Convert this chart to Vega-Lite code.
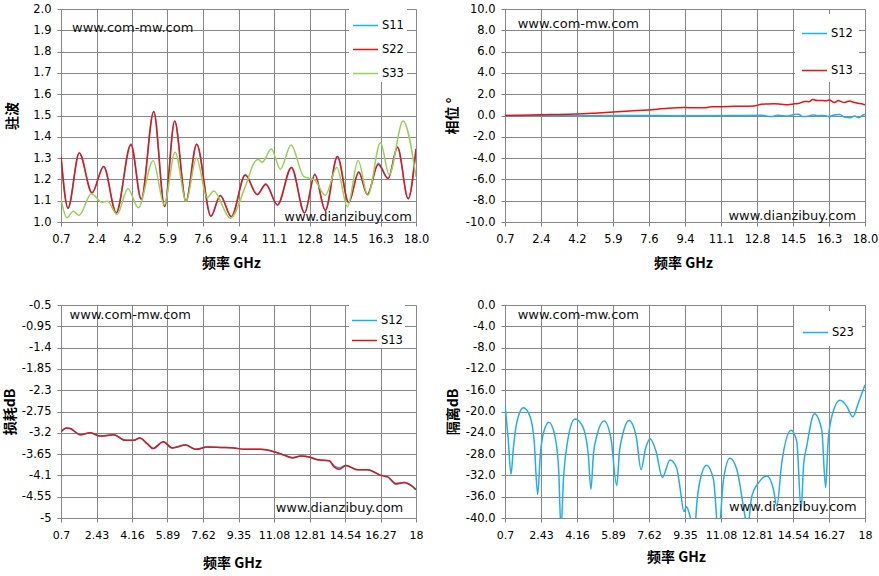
{
  "$schema": "https://vega.github.io/schema/vega-lite/v6.json",
  "padding": {"left": 3, "top": 3, "right": 0, "bottom": 0},
  "config": {
    "font": "DejaVu Sans",
    "view": {"stroke": null},
    "locale": {"number": {"decimal": ".", "thousands": ",", "grouping": [3], "currency": ["$", ""], "minus": "-"}},
    "axis": {
      "domainColor": "#868686", "gridColor": "#868686", "gridOpacity": 1, "tickColor": "#868686",
      "tickSize": 4, "tickCount": 11, "labelFont": "DejaVu Sans", "labelFontSize": 11.5, "labelColor": "#000000",
      "labelPadding": 6, "labelFlush": false, "labelOverlap": false, "labelBound": false,
      "titleFont": "Noto Sans CJK SC", "titleFontSize": 14, "titleFontWeight": "bold", "titleColor": "#000000",
      "titlePadding": 12
    },
    "axisX": {"labelPadding": 7},
    "legend": {
      "title": null, "symbolType": "stroke", "symbolSize": 625, "symbolStrokeWidth": 1.5,
      "labelFont": "DejaVu Sans", "labelFontSize": 11.5, "labelColor": "#000000", "labelOffset": 3,
      "fillColor": "#ffffff", "orient": "none"
    },
    "text": {"font": "DejaVu Sans", "fontSize": 13, "color": "#111111"}
  },
  "datasets": {
    "p1": [
      {"f": 0.7, "s": "S11", "v": 1.308}, {"f": 1.04, "s": "S11", "v": 1.065}, {"f": 1.59, "s": "S11", "v": 1.324},
      {"f": 2.21, "s": "S11", "v": 1.137}, {"f": 2.78, "s": "S11", "v": 1.261}, {"f": 3.39, "s": "S11", "v": 1.043},
      {"f": 4.11, "s": "S11", "v": 1.366}, {"f": 4.61, "s": "S11", "v": 1.107}, {"f": 5.22, "s": "S11", "v": 1.519},
      {"f": 5.75, "s": "S11", "v": 1.072}, {"f": 6.24, "s": "S11", "v": 1.474}, {"f": 6.79, "s": "S11", "v": 1.097},
      {"f": 7.31, "s": "S11", "v": 1.365}, {"f": 8.01, "s": "S11", "v": 1.027}, {"f": 8.46, "s": "S11", "v": 1.125},
      {"f": 9.0, "s": "S11", "v": 1.025}, {"f": 9.68, "s": "S11", "v": 1.223}, {"f": 10.26, "s": "S11", "v": 1.129},
      {"f": 10.68, "s": "S11", "v": 1.18}, {"f": 11.25, "s": "S11", "v": 1.08}, {"f": 11.93, "s": "S11", "v": 1.256},
      {"f": 12.57, "s": "S11", "v": 1.043}, {"f": 13.07, "s": "S11", "v": 1.225}, {"f": 13.58, "s": "S11", "v": 1.055},
      {"f": 14.17, "s": "S11", "v": 1.308}, {"f": 14.72, "s": "S11", "v": 1.091}, {"f": 15.21, "s": "S11", "v": 1.236},
      {"f": 15.63, "s": "S11", "v": 1.129}, {"f": 16.16, "s": "S11", "v": 1.276}, {"f": 16.64, "s": "S11", "v": 1.204},
      {"f": 17.1, "s": "S11", "v": 1.351}, {"f": 17.62, "s": "S11", "v": 1.109}, {"f": 18.0, "s": "S11", "v": 1.343},

      {"f": 0.7, "s": "S22", "v": 1.308}, {"f": 1.04, "s": "S22", "v": 1.065}, {"f": 1.59, "s": "S22", "v": 1.324},
      {"f": 2.21, "s": "S22", "v": 1.137}, {"f": 2.78, "s": "S22", "v": 1.261}, {"f": 3.39, "s": "S22", "v": 1.043},
      {"f": 4.11, "s": "S22", "v": 1.363}, {"f": 4.61, "s": "S22", "v": 1.107}, {"f": 5.22, "s": "S22", "v": 1.519},
      {"f": 5.75, "s": "S22", "v": 1.072}, {"f": 6.24, "s": "S22", "v": 1.474}, {"f": 6.79, "s": "S22", "v": 1.097},
      {"f": 7.31, "s": "S22", "v": 1.365}, {"f": 8.01, "s": "S22", "v": 1.027}, {"f": 8.46, "s": "S22", "v": 1.125},
      {"f": 9.0, "s": "S22", "v": 1.025}, {"f": 9.68, "s": "S22", "v": 1.219}, {"f": 10.26, "s": "S22", "v": 1.129},
      {"f": 10.68, "s": "S22", "v": 1.176}, {"f": 11.25, "s": "S22", "v": 1.08}, {"f": 11.93, "s": "S22", "v": 1.256},
      {"f": 12.57, "s": "S22", "v": 1.043}, {"f": 13.07, "s": "S22", "v": 1.222}, {"f": 13.58, "s": "S22", "v": 1.055},
      {"f": 14.17, "s": "S22", "v": 1.308}, {"f": 14.72, "s": "S22", "v": 1.091}, {"f": 15.21, "s": "S22", "v": 1.234},
      {"f": 15.63, "s": "S22", "v": 1.129}, {"f": 16.16, "s": "S22", "v": 1.27}, {"f": 16.64, "s": "S22", "v": 1.204},
      {"f": 17.1, "s": "S22", "v": 1.351}, {"f": 17.62, "s": "S22", "v": 1.109}, {"f": 18.0, "s": "S22", "v": 1.343},

      {"f": 0.7, "s": "S33", "v": 1.107}, {"f": 0.99, "s": "S33", "v": 1.02}, {"f": 1.3, "s": "S33", "v": 1.051},
      {"f": 1.58, "s": "S33", "v": 1.031}, {"f": 2.18, "s": "S33", "v": 1.133}, {"f": 2.7, "s": "S33", "v": 1.093},
      {"f": 2.97, "s": "S33", "v": 1.097}, {"f": 3.43, "s": "S33", "v": 1.035}, {"f": 3.96, "s": "S33", "v": 1.156},
      {"f": 4.47, "s": "S33", "v": 1.067}, {"f": 5.19, "s": "S33", "v": 1.288}, {"f": 5.73, "s": "S33", "v": 1.081},
      {"f": 6.26, "s": "S33", "v": 1.328}, {"f": 6.8, "s": "S33", "v": 1.097}, {"f": 7.3, "s": "S33", "v": 1.3},
      {"f": 7.82, "s": "S33", "v": 1.115}, {"f": 8.14, "s": "S33", "v": 1.145}, {"f": 8.95, "s": "S33", "v": 1.018},
      {"f": 9.68, "s": "S33", "v": 1.166}, {"f": 10.16, "s": "S33", "v": 1.285}, {"f": 10.33, "s": "S33", "v": 1.293},
      {"f": 10.5, "s": "S33", "v": 1.28}, {"f": 10.95, "s": "S33", "v": 1.343}, {"f": 11.39, "s": "S33", "v": 1.248},
      {"f": 11.91, "s": "S33", "v": 1.362}, {"f": 12.53, "s": "S33", "v": 1.213}, {"f": 12.8, "s": "S33", "v": 1.205},
      {"f": 13.09, "s": "S33", "v": 1.194}, {"f": 13.58, "s": "S33", "v": 1.125}, {"f": 14.14, "s": "S33", "v": 1.256},
      {"f": 14.66, "s": "S33", "v": 1.072}, {"f": 15.18, "s": "S33", "v": 1.289}, {"f": 15.65, "s": "S33", "v": 1.125},
      {"f": 16.27, "s": "S33", "v": 1.372}, {"f": 16.69, "s": "S33", "v": 1.222}, {"f": 17.37, "s": "S33", "v": 1.474},
      {"f": 18.0, "s": "S33", "v": 1.212}
    ],
    "p2": [
      {"f": 0.7, "s": "S12", "v": 0.0}, {"f": 4.2, "s": "S12", "v": -0.02}, {"f": 8.0, "s": "S12", "v": 0.0},
      {"f": 10.0, "s": "S12", "v": -0.03}, {"f": 12.0, "s": "S12", "v": 0.0}, {"f": 13.0, "s": "S12", "v": 0.02},
      {"f": 13.5, "s": "S12", "v": -0.1}, {"f": 13.8, "s": "S12", "v": 0.02}, {"f": 14.3, "s": "S12", "v": -0.05},
      {"f": 14.6, "s": "S12", "v": 0.1}, {"f": 14.8, "s": "S12", "v": 0.12}, {"f": 15.0, "s": "S12", "v": -0.1},
      {"f": 15.3, "s": "S12", "v": -0.05}, {"f": 15.5, "s": "S12", "v": 0.05}, {"f": 15.7, "s": "S12", "v": -0.02},
      {"f": 16.0, "s": "S12", "v": 0.0}, {"f": 16.3, "s": "S12", "v": -0.1}, {"f": 16.5, "s": "S12", "v": 0.05},
      {"f": 16.8, "s": "S12", "v": 0.1}, {"f": 17.0, "s": "S12", "v": -0.15}, {"f": 17.3, "s": "S12", "v": -0.2},
      {"f": 17.5, "s": "S12", "v": -0.05}, {"f": 17.7, "s": "S12", "v": -0.2}, {"f": 17.9, "s": "S12", "v": 0.05},
      {"f": 18.0, "s": "S12", "v": 0.1},

      {"f": 0.7, "s": "S13", "v": 0.0}, {"f": 1.5, "s": "S13", "v": 0.03}, {"f": 2.46, "s": "S13", "v": 0.08},
      {"f": 3.3, "s": "S13", "v": 0.1}, {"f": 4.14, "s": "S13", "v": 0.14}, {"f": 5.0, "s": "S13", "v": 0.22},
      {"f": 5.9, "s": "S13", "v": 0.32}, {"f": 6.7, "s": "S13", "v": 0.42}, {"f": 7.58, "s": "S13", "v": 0.52},
      {"f": 8.54, "s": "S13", "v": 0.68}, {"f": 9.33, "s": "S13", "v": 0.74}, {"f": 9.8, "s": "S13", "v": 0.72},
      {"f": 10.29, "s": "S13", "v": 0.72}, {"f": 10.61, "s": "S13", "v": 0.82}, {"f": 11.1, "s": "S13", "v": 0.83},
      {"f": 11.7, "s": "S13", "v": 0.86}, {"f": 12.69, "s": "S13", "v": 0.9}, {"f": 13.01, "s": "S13", "v": 1.05},
      {"f": 13.3, "s": "S13", "v": 1.08}, {"f": 13.65, "s": "S13", "v": 1.1}, {"f": 14.0, "s": "S13", "v": 1.05},
      {"f": 14.29, "s": "S13", "v": 1.02}, {"f": 14.61, "s": "S13", "v": 1.1}, {"f": 14.85, "s": "S13", "v": 1.15},
      {"f": 15.09, "s": "S13", "v": 1.32}, {"f": 15.3, "s": "S13", "v": 1.3}, {"f": 15.49, "s": "S13", "v": 1.5},
      {"f": 15.7, "s": "S13", "v": 1.4}, {"f": 15.89, "s": "S13", "v": 1.42}, {"f": 16.1, "s": "S13", "v": 1.38},
      {"f": 16.29, "s": "S13", "v": 1.45}, {"f": 16.53, "s": "S13", "v": 1.22}, {"f": 16.72, "s": "S13", "v": 1.4},
      {"f": 16.85, "s": "S13", "v": 1.3}, {"f": 17.01, "s": "S13", "v": 1.22}, {"f": 17.25, "s": "S13", "v": 1.35},
      {"f": 17.45, "s": "S13", "v": 1.25}, {"f": 17.65, "s": "S13", "v": 1.15}, {"f": 17.85, "s": "S13", "v": 1.1},
      {"f": 18.0, "s": "S13", "v": 1.0}
    ],
    "p3": [
      {"f": 0.7, "s": "S12", "v": -3.18}, {"f": 0.96, "s": "S12", "v": -3.096}, {"f": 1.15, "s": "S12", "v": -3.11},
      {"f": 1.64, "s": "S12", "v": -3.24}, {"f": 2.13, "s": "S12", "v": -3.2}, {"f": 2.62, "s": "S12", "v": -3.27},
      {"f": 3.27, "s": "S12", "v": -3.24}, {"f": 3.84, "s": "S12", "v": -3.36}, {"f": 4.25, "s": "S12", "v": -3.36},
      {"f": 4.54, "s": "S12", "v": -3.31}, {"f": 4.9, "s": "S12", "v": -3.43}, {"f": 5.19, "s": "S12", "v": -3.53},
      {"f": 5.68, "s": "S12", "v": -3.39}, {"f": 6.12, "s": "S12", "v": -3.52}, {"f": 6.77, "s": "S12", "v": -3.46},
      {"f": 7.26, "s": "S12", "v": -3.55}, {"f": 7.83, "s": "S12", "v": -3.5}, {"f": 8.48, "s": "S12", "v": -3.51},
      {"f": 9.13, "s": "S12", "v": -3.52}, {"f": 9.62, "s": "S12", "v": -3.55}, {"f": 10.43, "s": "S12", "v": -3.55},
      {"f": 11.08, "s": "S12", "v": -3.6}, {"f": 11.57, "s": "S12", "v": -3.67}, {"f": 11.98, "s": "S12", "v": -3.72},
      {"f": 12.39, "s": "S12", "v": -3.69}, {"f": 12.79, "s": "S12", "v": -3.71}, {"f": 13.2, "s": "S12", "v": -3.77},
      {"f": 13.77, "s": "S12", "v": -3.79}, {"f": 14.01, "s": "S12", "v": -3.9}, {"f": 14.26, "s": "S12", "v": -3.94},
      {"f": 14.58, "s": "S12", "v": -3.89}, {"f": 15.15, "s": "S12", "v": -3.98}, {"f": 15.64, "s": "S12", "v": -3.98},
      {"f": 16.29, "s": "S12", "v": -4.1}, {"f": 16.62, "s": "S12", "v": -4.13}, {"f": 17.02, "s": "S12", "v": -4.29},
      {"f": 17.43, "s": "S12", "v": -4.25}, {"f": 17.76, "s": "S12", "v": -4.31}, {"f": 18.0, "s": "S12", "v": -4.4},

      {"f": 0.7, "s": "S13", "v": -3.18}, {"f": 0.96, "s": "S13", "v": -3.096}, {"f": 1.15, "s": "S13", "v": -3.11},
      {"f": 1.64, "s": "S13", "v": -3.24}, {"f": 2.13, "s": "S13", "v": -3.2}, {"f": 2.62, "s": "S13", "v": -3.27},
      {"f": 3.27, "s": "S13", "v": -3.24}, {"f": 3.84, "s": "S13", "v": -3.36}, {"f": 4.25, "s": "S13", "v": -3.36},
      {"f": 4.54, "s": "S13", "v": -3.31}, {"f": 4.9, "s": "S13", "v": -3.43}, {"f": 5.19, "s": "S13", "v": -3.53},
      {"f": 5.68, "s": "S13", "v": -3.39}, {"f": 6.12, "s": "S13", "v": -3.52}, {"f": 6.77, "s": "S13", "v": -3.46},
      {"f": 7.26, "s": "S13", "v": -3.55}, {"f": 7.83, "s": "S13", "v": -3.5}, {"f": 8.48, "s": "S13", "v": -3.51},
      {"f": 9.13, "s": "S13", "v": -3.52}, {"f": 9.62, "s": "S13", "v": -3.55}, {"f": 10.43, "s": "S13", "v": -3.55},
      {"f": 11.08, "s": "S13", "v": -3.6}, {"f": 11.57, "s": "S13", "v": -3.67}, {"f": 11.98, "s": "S13", "v": -3.73},
      {"f": 12.39, "s": "S13", "v": -3.69}, {"f": 12.79, "s": "S13", "v": -3.71}, {"f": 13.2, "s": "S13", "v": -3.77},
      {"f": 13.77, "s": "S13", "v": -3.79}, {"f": 14.01, "s": "S13", "v": -3.92}, {"f": 14.26, "s": "S13", "v": -3.97},
      {"f": 14.58, "s": "S13", "v": -3.89}, {"f": 15.15, "s": "S13", "v": -3.98}, {"f": 15.64, "s": "S13", "v": -3.98},
      {"f": 16.29, "s": "S13", "v": -4.1}, {"f": 16.62, "s": "S13", "v": -4.13}, {"f": 17.02, "s": "S13", "v": -4.27},
      {"f": 17.43, "s": "S13", "v": -4.25}, {"f": 17.76, "s": "S13", "v": -4.31}, {"f": 18.0, "s": "S13", "v": -4.4}
    ],
    "p4": [
      {"f": 0.7, "s": "S23", "v": -18.7}, {"f": 0.85, "s": "S23", "v": -25}, {"f": 0.99, "s": "S23", "v": -31.8},
      {"f": 1.1, "s": "S23", "v": -27}, {"f": 1.26, "s": "S23", "v": -22.2}, {"f": 1.58, "s": "S23", "v": -19.3},
      {"f": 1.9, "s": "S23", "v": -20.9}, {"f": 2.1, "s": "S23", "v": -25.5}, {"f": 2.27, "s": "S23", "v": -35.6},
      {"f": 2.4, "s": "S23", "v": -28}, {"f": 2.55, "s": "S23", "v": -24.0}, {"f": 2.81, "s": "S23", "v": -22.0},
      {"f": 3.1, "s": "S23", "v": -24.6}, {"f": 3.28, "s": "S23", "v": -31}, {"f": 3.39, "s": "S23", "v": -42},
      {"f": 3.52, "s": "S23", "v": -32}, {"f": 3.67, "s": "S23", "v": -26.5}, {"f": 4.06, "s": "S23", "v": -21.4},
      {"f": 4.43, "s": "S23", "v": -22.8}, {"f": 4.7, "s": "S23", "v": -28}, {"f": 4.83, "s": "S23", "v": -34.6},
      {"f": 4.95, "s": "S23", "v": -28}, {"f": 5.11, "s": "S23", "v": -24.6}, {"f": 5.46, "s": "S23", "v": -21.8},
      {"f": 5.79, "s": "S23", "v": -25.0}, {"f": 6.07, "s": "S23", "v": -33.9}, {"f": 6.2, "s": "S23", "v": -27.5},
      {"f": 6.34, "s": "S23", "v": -24.6}, {"f": 6.66, "s": "S23", "v": -21.7}, {"f": 7.0, "s": "S23", "v": -24.6},
      {"f": 7.24, "s": "S23", "v": -30.9}, {"f": 7.45, "s": "S23", "v": -27}, {"f": 7.67, "s": "S23", "v": -25.1},
      {"f": 7.96, "s": "S23", "v": -27.5}, {"f": 8.26, "s": "S23", "v": -32.4}, {"f": 8.63, "s": "S23", "v": -29.1},
      {"f": 8.95, "s": "S23", "v": -30.6}, {"f": 9.1, "s": "S23", "v": -34}, {"f": 9.3, "s": "S23", "v": -38.8},
      {"f": 9.42, "s": "S23", "v": -37.9}, {"f": 9.6, "s": "S23", "v": -39.8}, {"f": 9.78, "s": "S23", "v": -43},
      {"f": 9.95, "s": "S23", "v": -36}, {"f": 10.07, "s": "S23", "v": -33}, {"f": 10.39, "s": "S23", "v": -30.1},
      {"f": 10.72, "s": "S23", "v": -32.8}, {"f": 10.96, "s": "S23", "v": -43}, {"f": 11.2, "s": "S23", "v": -32.8},
      {"f": 11.51, "s": "S23", "v": -28.8}, {"f": 11.84, "s": "S23", "v": -30.9}, {"f": 12.23, "s": "S23", "v": -39.6},
      {"f": 12.35, "s": "S23", "v": -42}, {"f": 12.56, "s": "S23", "v": -35.9}, {"f": 12.88, "s": "S23", "v": -33.4},
      {"f": 13.28, "s": "S23", "v": -32.1}, {"f": 13.6, "s": "S23", "v": -34.6}, {"f": 13.76, "s": "S23", "v": -37.8},
      {"f": 14.0, "s": "S23", "v": -29.6}, {"f": 14.45, "s": "S23", "v": -23.5}, {"f": 14.72, "s": "S23", "v": -25.6},
      {"f": 14.93, "s": "S23", "v": -38.4}, {"f": 15.05, "s": "S23", "v": -30}, {"f": 15.2, "s": "S23", "v": -26.5},
      {"f": 15.57, "s": "S23", "v": -20.4}, {"f": 15.92, "s": "S23", "v": -23.4}, {"f": 16.11, "s": "S23", "v": -34.3},
      {"f": 16.22, "s": "S23", "v": -26}, {"f": 16.37, "s": "S23", "v": -21.5}, {"f": 16.8, "s": "S23", "v": -17.9},
      {"f": 17.12, "s": "S23", "v": -19.0}, {"f": 17.41, "s": "S23", "v": -21.0}, {"f": 17.68, "s": "S23", "v": -18.4},
      {"f": 18.0, "s": "S23", "v": -15.0}
    ]
  },
  "columns": 2,
  "bounds": "flush",
  "spacing": {"row": 83, "column": 89},
  "resolve": {"scale": {"color": "independent", "x": "independent", "y": "independent"}, "legend": {"color": "independent"}},
  "concat": [
    {
      "width": 355, "height": 213,
      "layer": [
        {
          "data": {"name": "p1"},
          "mark": {"type": "line", "interpolate": "monotone", "strokeWidth": 1.5, "clip": true},
          "encoding": {
            "x": {"field": "f", "type": "quantitative", "scale": {"domain": [0.7, 18], "nice": false, "zero": false},
              "axis": {"values": [0.7, 2.43, 4.16, 5.89, 7.62, 9.351, 11.08, 12.81, 14.54, 16.27, 18], "tickCount": 11, "format": ".1f", "title": "频率  GHz", "titleX": 170, "titlePadding": 11.5}},
            "y": {"field": "v", "type": "quantitative", "scale": {"domain": [1, 2], "nice": false, "zero": false},
              "axis": {"values": [1, 1.1, 1.2, 1.3, 1.4, 1.5, 1.6, 1.7, 1.8, 1.9, 2], "tickCount": 11, "format": ".1f", "title": "驻波", "titleX": -49, "titleBaseline": "middle"}},
            "color": {"field": "s", "type": "nominal", "scale": {"domain": ["S11", "S22", "S33"], "range": ["#22AEE8", "#EE1111", "#98D05A"]},
              "legend": {"legendX": 288, "legendY": 0, "padding": 3, "rowPadding": 5}}
          }
        },
        {
          "data": {"values": [{"t": "www.com-mw.com"}]},
          "mark": {"type": "text", "align": "left", "baseline": "alphabetic"},
          "encoding": {"x": {"datum": 1.24}, "y": {"datum": 1.894}, "text": {"field": "t", "type": "nominal"}}
        },
        {
          "data": {"values": [{"t": "www.dianzibuy.com"}]},
          "mark": {"type": "text", "align": "right", "baseline": "alphabetic"},
          "encoding": {"x": {"datum": 17.8}, "y": {"datum": 1.004}, "text": {"field": "t", "type": "nominal"}}
        }
      ]
    },
    {
      "width": 360, "height": 213,
      "layer": [
        {
          "data": {"name": "p2"},
          "mark": {"type": "line", "interpolate": "monotone", "strokeWidth": 1.5, "clip": true},
          "encoding": {
            "x": {"field": "f", "type": "quantitative", "scale": {"domain": [0.7, 18], "nice": false, "zero": false},
              "axis": {"values": [0.7, 2.43, 4.16, 5.89, 7.62, 9.351, 11.08, 12.81, 14.54, 16.27, 18], "tickCount": 11, "format": ".1f", "title": "频率  GHz", "titleX": 178, "titlePadding": 11.5}},
            "y": {"field": "v", "type": "quantitative", "scale": {"domain": [-10, 10], "nice": false, "zero": false},
              "axis": {"values": [-10, -8, -6, -4, -2, 0, 2, 4, 6, 8, 10], "tickCount": 11, "format": ".1f", "title": "相位 °", "titleX": -53, "titleBaseline": "middle"}},
            "color": {"field": "s", "type": "nominal", "scale": {"domain": ["S12", "S13"], "range": ["#22AEE8", "#EE1111"]},
              "legend": {"legendX": 290, "legendY": 5, "padding": 6, "rowPadding": 18}}
          }
        },
        {
          "data": {"values": [{"t": "www.com-mw.com"}]},
          "mark": {"type": "text", "align": "left", "baseline": "alphabetic"},
          "encoding": {"x": {"datum": 1.31}, "y": {"datum": 8.23}, "text": {"field": "t", "type": "nominal"}}
        },
        {
          "data": {"values": [{"t": "www.dianzibuy.com"}]},
          "mark": {"type": "text", "align": "right", "baseline": "alphabetic"},
          "encoding": {"x": {"datum": 17.57}, "y": {"datum": -9.78}, "text": {"field": "t", "type": "nominal"}}
        }
      ]
    },
    {
      "width": 355, "height": 213,
      "layer": [
        {
          "data": {"name": "p3"},
          "mark": {"type": "line", "interpolate": "monotone", "strokeWidth": 1.5, "clip": true},
          "encoding": {
            "x": {"field": "f", "type": "quantitative", "scale": {"domain": [0.7, 18], "nice": false, "zero": false},
              "axis": {"values": [0.7, 2.43, 4.16, 5.89, 7.62, 9.35, 11.08, 12.81, 14.54, 16.27, 18], "tickCount": 11, "labelExpr": "'' + datum.value", "labelFontSize": 11, "title": "频率  GHz", "titleX": 171, "titlePadding": 16}},
            "y": {"field": "v", "type": "quantitative", "scale": {"domain": [-5, -0.5], "nice": false, "zero": false},
              "axis": {"values": [-5, -4.55, -4.1, -3.65, -3.2, -2.75, -2.3, -1.85, -1.4, -0.95, -0.5], "tickCount": 11, "labelExpr": "'' + datum.value", "title": "损耗dB", "titleX": -51, "titleBaseline": "middle"}},
            "color": {"field": "s", "type": "nominal", "scale": {"domain": ["S12", "S13"], "range": ["#22AEE8", "#DD1616"]},
              "legend": {"legendX": 288, "legendY": 0, "padding": 2, "rowPadding": 1}}
          }
        },
        {
          "data": {"values": [{"t": "www.com-mw.com"}]},
          "mark": {"type": "text", "align": "left", "baseline": "alphabetic"},
          "encoding": {"x": {"datum": 1.12}, "y": {"datum": -0.8}, "text": {"field": "t", "type": "nominal"}}
        },
        {
          "data": {"values": [{"t": "www.dianzibuy.com"}]},
          "mark": {"type": "text", "align": "right", "baseline": "alphabetic"},
          "encoding": {"x": {"datum": 17.38}, "y": {"datum": -4.87}, "text": {"field": "t", "type": "nominal"}}
        }
      ]
    },
    {
      "width": 360, "height": 213,
      "layer": [
        {
          "data": {"name": "p4"},
          "mark": {"type": "line", "interpolate": "monotone", "strokeWidth": 1.5, "clip": true},
          "encoding": {
            "x": {"field": "f", "type": "quantitative", "scale": {"domain": [0.7, 18], "nice": false, "zero": false},
              "axis": {"values": [0.7, 2.43, 4.16, 5.89, 7.62, 9.35, 11.08, 12.81, 14.54, 16.27, 18], "tickCount": 11, "labelExpr": "'' + datum.value", "labelFontSize": 11, "title": "频率  GHz", "titleX": 171, "titlePadding": 10}},
            "y": {"field": "v", "type": "quantitative", "scale": {"domain": [-40, 0], "nice": false, "zero": false},
              "axis": {"values": [-40, -36, -32, -28, -24, -20, -16, -12, -8, -4, 0], "tickCount": 11, "format": ".1f", "title": "隔离dB", "titleX": -52, "titleBaseline": "middle"}},
            "color": {"field": "s", "type": "nominal", "scale": {"domain": ["S23"], "range": ["#22AEE8"]},
              "legend": {"legendX": 289, "legendY": 6, "padding": 8}}
          }
        },
        {
          "data": {"values": [{"t": "www.com-mw.com"}]},
          "mark": {"type": "text", "align": "left", "baseline": "alphabetic"},
          "encoding": {"x": {"datum": 1.31}, "y": {"datum": -2.68}, "text": {"field": "t", "type": "nominal"}}
        },
        {
          "data": {"values": [{"t": "www.dianzibuy.com"}]},
          "mark": {"type": "text", "align": "right", "baseline": "alphabetic"},
          "encoding": {"x": {"datum": 17.6}, "y": {"datum": -38.7}, "text": {"field": "t", "type": "nominal"}}
        }
      ]
    }
  ]
}
